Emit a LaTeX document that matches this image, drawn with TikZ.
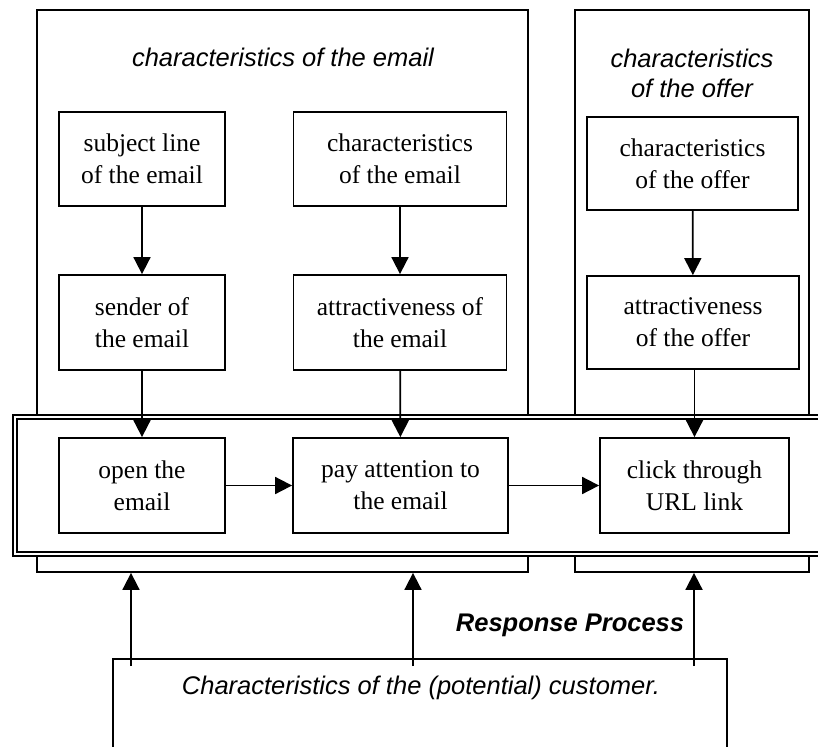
\documentclass[tikz,border=0pt]{standalone}
\usepackage{fontspec}
\setmainfont{Liberation Serif}
\newfontfamily\arialf{Liberation Sans}
\usetikzlibrary{arrows.meta,calc}
\begin{document}
\begin{tikzpicture}[x=1pt,y=-1pt,
  box/.style={draw, line width=1.8pt, fill=white, inner sep=0pt, align=center,
    font=\fontsize{25.5}{32}\selectfont},
  group/.style={draw, line width=1.8pt, inner sep=0pt},
  arr/.style={line width=1.8pt, -{Triangle[width=17pt,length=17pt]}},
  ttl/.style={font=\arialf\itshape\fontsize{25.5}{30}\selectfont, align=center, inner sep=0pt}]
\useasboundingbox (0,0) rectangle (818,746);
% group boxes
\node[group, minimum width=491, minimum height=562] (boxE) at (282.5,291) {};
\node[group, minimum width=234, minimum height=562] (boxO) at (692,291) {};
\node[ttl] (titleE) at (283,57) {characteristics of the email};
\node[ttl] (titleO) at (692,73) {characteristics\\of the offer};
% response process double box
\node[draw, double, line width=1.6pt, double distance=2.5pt, fill=white,
  minimum width=826, minimum height=137, inner sep=0pt] (proc) at (428,485.5) {};
% boxes
\node[box, minimum width=166, minimum height=94] (subj) at (142,159) {subject line\\of the email};
\node[box, minimum width=213, minimum height=94] (chE) at (400,159) {characteristics\\of the email};
\node[box, minimum width=211, minimum height=93] (chO) at (692.5,163.5) {characteristics\\of the offer};
\node[box, minimum width=166, minimum height=95] (send) at (142,322.5) {sender of\\the email};
\node[box, minimum width=213, minimum height=95] (attE) at (400,322.5) {attractiveness of\\the email};
\node[box, minimum width=212, minimum height=93] (attO) at (693,322.5) {attractiveness\\of the offer};
\node[box, minimum width=166, minimum height=95] (open) at (142,485.5) {open the\\email};
\node[box, minimum width=215, minimum height=95] (pay) at (400.5,485.5) {pay attention to\\the email};
\node[box, minimum width=189, minimum height=95] (click) at (694.5,485.5) {click through\\URL link};
% customer
\node[group, minimum width=614, minimum height=110] (cust) at (420,714) {};
\node[ttl] (custtxt) at (421,688) {Characteristics of the (potential) customer.};
\node[font=\arialf\bfseries\itshape\fontsize{25.5}{30}\selectfont, inner sep=0pt] (resp) at (570,625) {Response Process};
% arrows
\draw[arr] (subj) -- (send);
\draw[arr] (chE) -- (attE);
\draw[arr] (chO) -- (attO);
\draw[arr] (send) -- (open);
\draw[arr] (attE) -- (pay);
\draw[arr] (attO.south -| click.north) -- (click.north);
\draw[arr] (open) -- (pay);
\draw[arr] (pay) -- (click);
\coordinate (c1) at (131,666);
\coordinate (c2) at (413,666);
\coordinate (c3) at (694,666);
\draw[arr] (c1) -- (c1 |- boxE.south);
\draw[arr] (c2) -- (c2 |- boxE.south);
\draw[arr] (c3) -- (c3 |- boxO.south);
\end{tikzpicture}
\end{document}
